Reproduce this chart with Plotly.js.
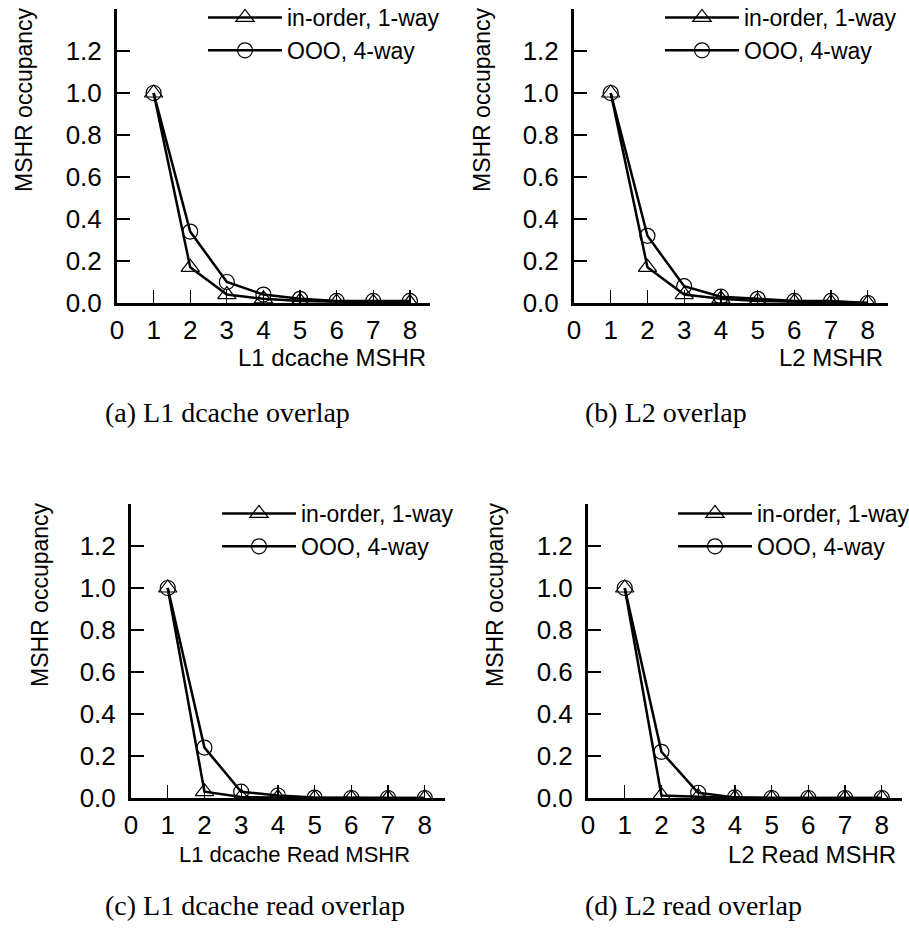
<!DOCTYPE html>
<html><head><meta charset="utf-8">
<script src="https://cdn.plot.ly/plotly-3.0.1.min.js"></script>
<style>html,body{margin:0;padding:0;background:#fff;} #chart{width:909px;height:951px;}</style>
</head><body><div id="chart"></div>
<script>
// ---- data ----
const mshrCounts = [1, 2, 3, 4, 5, 6, 7, 8];
const seriesNames = ['in-order, 1-way', 'OOO, 4-way'];
const l1Inorder = [1.0, 0.17, 0.04, 0.02, 0.01, 0.005, 0.003, 0.002];
const l1OOO = [1.0, 0.34, 0.10, 0.04, 0.02, 0.01, 0.01, 0.01];
const l2Inorder = [1.0, 0.17, 0.04, 0.02, 0.01, 0.005, 0.003, 0.0];
const l2OOO = [1.0, 0.32, 0.08, 0.03, 0.02, 0.01, 0.01, 0.0];
const l1ReadInorder = [1.0, 0.03, 0.005, 0.002, 0.0, 0.0, 0.0, 0.0];
const l1ReadOOO = [1.0, 0.24, 0.03, 0.012, 0.002, 0.0, 0.0, 0.0];
const l2ReadInorder = [1.0, 0.012, 0.006, 0.0, 0.0, 0.0, 0.0, 0.0];
const l2ReadOOO = [1.0, 0.22, 0.025, 0.003, 0.0, 0.0, 0.0, 0.0];
const xTitles = ['L1 dcache MSHR', 'L2 MSHR', 'L1 dcache Read MSHR', 'L2 Read MSHR'];
const captions = ['(a) L1 dcache overlap', '(b) L2 overlap', '(c) L1 dcache read overlap', '(d) L2 read overlap'];
const yTitle = 'MSHR occupancy';
const yTickVals = [0, 0.2, 0.4, 0.6, 0.8, 1.0, 1.2];
const xTickVals = [0, 1, 2, 3, 4, 5, 6, 7, 8];

const panelSeries = [
  [l1Inorder, l1OOO],
  [l2Inorder, l2OOO],
  [l1ReadInorder, l1ReadOOO],
  [l2ReadInorder, l2ReadOOO]
];

// ---- layout geometry (pixels) ----
const W = 909, H = 951;
const px = v => v / W;
const py = v => 1 - v / H;
const panels = [
  {x0: 117, x1: 430, yb: 303, yt: 9,   legX: 203, legY: -4,  ytX: 24,  ytY: 100, xtX: 428, xtY: 357, xtS: 24, capX: 103, capY: 412},
  {x0: 574, x1: 888, yb: 303, yt: 9,   legX: 660, legY: -4,  ytX: 482, ytY: 100, xtX: 885, xtY: 357, xtS: 24, capX: 583, capY: 412},
  {x0: 131, x1: 445, yb: 798, yt: 504, legX: 217, legY: 492, ytX: 40,  ytY: 595, xtX: 412, xtY: 854, xtS: 22, capX: 103, capY: 905},
  {x0: 588, x1: 902, yb: 798, yt: 504, legX: 673, legY: 492, ytX: 495, ytY: 595, xtX: 898, xtY: 854, xtS: 24, capX: 583, capY: 905}
];

const SANS = 'Liberation Sans, Arial, Helvetica, sans-serif';
const SERIF = 'Liberation Serif, Times New Roman, Times, serif';
const symbols = ['triangle-up-open', 'circle-open'];
const sizes = [16, 15];

const traces = [];
const layout = {
  width: W, height: H,
  margin: {l: 0, r: 0, t: 0, b: 0, pad: 0, autoexpand: false},
  paper_bgcolor: '#fff', plot_bgcolor: 'rgba(0,0,0,0)',
  font: {family: SANS, color: '#000', size: 22},
  annotations: []
};

panels.forEach((p, i) => {
  const n = i === 0 ? '' : String(i + 1);
  const legName = 'legend' + n;
  panelSeries[i].forEach((vals, s) => {
    traces.push({
      type: 'scatter', mode: 'lines+markers',
      x: mshrCounts, y: vals,
      name: seriesNames[s],
      xaxis: 'x' + n, yaxis: 'y' + n,
      legend: legName,
      line: {color: '#000', width: 2.5},
      marker: {symbol: symbols[s], size: sizes[s], color: '#000', line: {color: '#000', width: 1.2}}
    });
  });
  const common = {
    showline: true, linewidth: 3, linecolor: '#000',
    ticks: 'inside', ticklen: 13, tickwidth: 1.3, tickcolor: '#000',
    showgrid: false, zeroline: false, fixedrange: true, automargin: false,
    tickfont: {family: SANS, size: 26, color: '#000'}
  };
  layout['xaxis' + n] = Object.assign({}, common, {
    domain: [px(p.x0), px(p.x1)], range: [0, 8.55], anchor: 'y' + n,
    tickmode: 'array', tickvals: xTickVals, ticklabelstandoff: 2
  });
  layout['yaxis' + n] = Object.assign({}, common, {
    domain: [py(p.yb), py(p.yt)], range: [0, 1.4], anchor: 'x' + n,
    tickmode: 'array', tickvals: yTickVals, tickformat: '.1f', ticklabelstandoff: 7
  });
  layout[legName] = {
    x: px(p.legX), y: py(p.legY), xanchor: 'left', yanchor: 'top',
    bgcolor: 'rgba(0,0,0,0)', borderwidth: 0,
    font: {family: SANS, size: 23, color: '#000'},
    itemwidth: 74, tracegroupgap: 0
  };
  layout.annotations.push(
    {text: yTitle, xref: 'paper', yref: 'paper', x: px(p.ytX), y: py(p.ytY), xanchor: 'center', yanchor: 'middle',
     textangle: -90, showarrow: false, font: {family: SANS, size: 23, color: '#000'}},
    {text: xTitles[i], xref: 'paper', yref: 'paper', x: px(p.xtX), y: py(p.xtY), xanchor: 'right', yanchor: 'middle',
     showarrow: false, font: {family: SANS, size: p.xtS, color: '#000'}},
    {text: captions[i], xref: 'paper', yref: 'paper', x: px(p.capX), y: py(p.capY), xanchor: 'left', yanchor: 'middle',
     showarrow: false, font: {family: SERIF, size: 28, color: '#000'}}
  );
});

Plotly.newPlot('chart', traces, layout, {displayModeBar: false, staticPlot: true});
</script>
</body></html>
